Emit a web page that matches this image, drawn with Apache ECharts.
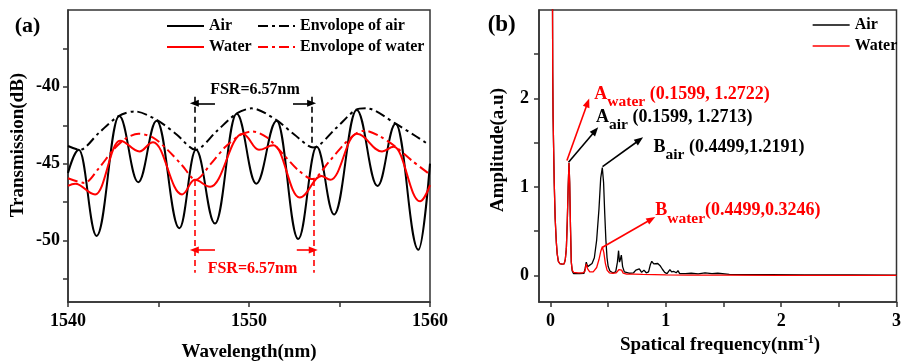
<!DOCTYPE html>
<html>
<head>
<meta charset="utf-8">
<script src="https://cdn.jsdelivr.net/npm/echarts@6/dist/echarts.min.js"></script>
<style>
html, body { margin: 0; padding: 0; background: #fff; }
#chart { width: 904px; height: 363px; }
</style>
</head>
<body>
<div id="chart"></div>
<script>
// (a) transmission spectra: wavelength (nm) / transmission (dB), read at the extrema
const wlAir = [1540.0, 1540.6, 1541.58, 1542.83, 1543.88, 1544.9, 1546.15, 1547.07, 1548.12, 1549.32, 1550.4, 1551.53, 1552.72, 1553.74, 1554.7, 1555.95, 1557.1, 1558.1, 1559.36, 1560.0];
const tAir = [-45.6, -44.1, -49.7, -41.9, -46.2, -42.2, -49.2, -44.1, -48.9, -41.75, -46.3, -42.2, -49.9, -43.9, -48.3, -41.5, -46.45, -42.4, -50.6, -45.0];

const wlWater = [1540.0, 1540.4, 1541.5, 1542.87, 1543.95, 1544.7, 1546.3, 1547.0, 1547.85, 1549.65, 1550.55, 1551.35, 1552.8, 1554.0, 1554.5, 1555.95, 1557.35, 1558.0, 1559.45, 1560.0];
const tWater = [-46.45, -46.3, -47.0, -43.5, -44.2, -43.6, -47.0, -46.05, -46.5, -43.05, -44.1, -43.8, -47.2, -45.8, -46.05, -43.05, -44.2, -43.9, -47.45, -46.4];

const wlEnvAir = [1540.0, 1540.65, 1541.7, 1542.8, 1543.7, 1544.9, 1546.0, 1547.05, 1548.2, 1549.3, 1550.15, 1551.5, 1552.5, 1553.55, 1554.8, 1555.9, 1556.5, 1558.1, 1559.2, 1559.85];
const tEnvAir = [-43.85, -44.1, -43.0, -41.9, -41.6, -42.15, -43.1, -44.1, -42.9, -41.75, -41.4, -42.15, -43.1, -43.95, -42.7, -41.5, -41.4, -42.4, -43.2, -43.7];

const wlEnvWater = [1540.0, 1540.9, 1541.7, 1542.5, 1543.2, 1543.9, 1544.7, 1545.5, 1546.3, 1547.05, 1547.9, 1548.7, 1549.5, 1550.2, 1551.0, 1551.9, 1552.7, 1553.5, 1554.4, 1555.2, 1555.9, 1556.4, 1557.2, 1558.1, 1559.0, 1560.0];
const tEnvWater = [-45.95, -46.25, -45.3, -44.1, -43.35, -43.05, -43.3, -44.1, -45.1, -46.05, -45.0, -43.9, -43.15, -42.9, -43.3, -44.4, -45.4, -46.0, -44.9, -43.8, -43.05, -42.85, -43.2, -43.9, -44.8, -45.7];

// (b) spatial frequency spectra: frequency (nm^-1) / amplitude (a.u)
const fsAir = [0.015, 0.017, 0.019, 0.022, 0.026, 0.032, 0.04, 0.05, 0.058, 0.068, 0.08, 0.1, 0.118, 0.128, 0.137, 0.145, 0.153, 0.16, 0.166, 0.173, 0.18, 0.188, 0.2, 0.25, 0.29, 0.3, 0.31, 0.322, 0.335, 0.36, 0.38, 0.4, 0.42, 0.435, 0.449, 0.46, 0.47, 0.48, 0.49, 0.5, 0.515, 0.54, 0.565, 0.58, 0.59, 0.598, 0.605, 0.614, 0.625, 0.64, 0.68, 0.72, 0.74, 0.755, 0.77, 0.79, 0.81, 0.83, 0.85, 0.865, 0.878, 0.895, 0.91, 0.93, 0.95, 0.97, 0.99, 1.01, 1.035, 1.05, 1.07, 1.09, 1.105, 1.12, 1.17, 1.22, 1.28, 1.34, 1.4, 1.45, 1.55, 1.7, 1.9, 2.2, 2.6, 3.0];
const ampAir = [30, 3.1, 2.3, 1.8, 1.5, 1.05, 0.65, 0.38, 0.24, 0.16, 0.135, 0.128, 0.13, 0.18, 0.3, 0.6, 1.0, 1.2713, 1.05, 0.55, 0.15, 0.05, 0.02, 0.02, 0.025, 0.08, 0.15, 0.1, 0.11, 0.135, 0.2, 0.4, 0.75, 1.1, 1.2191, 1.05, 0.7, 0.4, 0.2, 0.1, 0.05, 0.03, 0.04, 0.15, 0.28, 0.15, 0.18, 0.23, 0.1, 0.04, 0.025, 0.03, 0.06, 0.05, 0.075, 0.035, 0.06, 0.03, 0.04, 0.12, 0.16, 0.13, 0.14, 0.135, 0.11, 0.07, 0.035, 0.02, 0.065, 0.04, 0.045, 0.03, 0.055, 0.02, 0.02, 0.025, 0.018, 0.028, 0.02, 0.025, 0.012, 0.01, 0.008, 0.006, 0.005, 0.004];

const fsWater = [0.015, 0.017, 0.019, 0.022, 0.026, 0.032, 0.04, 0.05, 0.058, 0.068, 0.08, 0.1, 0.118, 0.128, 0.137, 0.145, 0.153, 0.16, 0.166, 0.173, 0.18, 0.188, 0.2, 0.24, 0.28, 0.298, 0.31, 0.322, 0.34, 0.37, 0.4, 0.42, 0.435, 0.449, 0.462, 0.475, 0.49, 0.51, 0.54, 0.57, 0.584, 0.594, 0.605, 0.617, 0.63, 0.66, 0.72, 0.8, 0.9, 1.0, 1.2, 1.5, 2.0, 3.0];
const ampWater = [30, 3.1, 2.3, 1.8, 1.5, 1.05, 0.65, 0.38, 0.24, 0.16, 0.135, 0.128, 0.13, 0.18, 0.3, 0.6, 1.0, 1.2722, 1.05, 0.55, 0.15, 0.06, 0.035, 0.03, 0.03, 0.045, 0.13, 0.075, 0.04, 0.04, 0.09, 0.18, 0.27, 0.3246, 0.26, 0.14, 0.06, 0.03, 0.025, 0.03, 0.05, 0.067, 0.045, 0.06, 0.025, 0.015, 0.015, 0.012, 0.01, 0.006, 0.004, 0.003, 0.002, 0.002];

// tick values
const wlTicks = [1540, 1545, 1550, 1555, 1560];
const wlLabels = [1540, 1550, 1560];
const dbTicks = [-52.5, -50, -47.5, -45, -42.5, -40, -37.5];
const dbLabels = [-50, -45, -40];
const fsTicks = [0, 0.5, 1, 1.5, 2, 2.5, 3];
const fsLabels = [0, 1, 2, 3];
const ampTicks = [0, 0.5, 1, 1.5, 2, 2.5];
const ampLabels = [0, 1, 2];

const FONT = '"Liberation Serif", "Times New Roman", serif';
const RED = '#ff0000';
const AXIS = '#333';
const DASHDOT = [10, 4, 3, 4];

const zip = (xs, ys) => xs.map((x, i) => [x, ys[i]]);

const chart = echarts.init(document.getElementById('chart'));

const axisCommon = {
    type: 'value',
    axisLine: { show: true, onZero: false, lineStyle: { color: AXIS, width: 1.5 } },
    axisTick: { show: true, length: 5, lineStyle: { color: AXIS, width: 1.5 } },
    splitLine: { show: false },
};
const labelStyle = { color: '#000', fontFamily: FONT, fontWeight: 'bold', fontSize: 18, formatter: (v) => String(v) };

const legendCommon = {
    orient: 'vertical',
    padding: 0,
    itemWidth: 37,
    itemHeight: 14,
    itemGap: 5,
    selectedMode: false,
    itemStyle: { opacity: 0 },
    textStyle: { color: '#000', fontFamily: FONT, fontWeight: 'bold', fontSize: 16 },
};

// endpoints of helper lines, in data coordinates
const seg = (a, b, color, type, arrow) => [
    { coord: a, symbol: 'none', lineStyle: { color, type, width: 1.6 } },
    { coord: b, symbol: arrow ? 'triangle' : 'none', symbolSize: [7, 9] },
];
const markLine = (data) => ({
    silent: true,
    animation: false,
    label: { show: false },
    emphasis: { disabled: true },
    symbol: ['none', 'none'],
    data,
});

const option = {
    animation: false,
    backgroundColor: '#fff',
    grid: [
        { left: 68, top: 10, width: 362, height: 292, show: true, borderColor: AXIS, borderWidth: 1.5 },
        { left: 539, top: 10, width: 362, height: 292, show: true, borderColor: AXIS, borderWidth: 1.5 },
    ],
    xAxis: [
        Object.assign({}, axisCommon, {
            gridIndex: 0, min: 1540, max: 1560,
            axisTick: Object.assign({}, axisCommon.axisTick, { customValues: wlTicks }),
            axisLabel: Object.assign({ margin: 10, customValues: wlLabels }, labelStyle),
        }),
        Object.assign({}, axisCommon, {
            gridIndex: 1, min: -0.1, max: 3,
            axisTick: Object.assign({}, axisCommon.axisTick, { customValues: fsTicks }),
            axisLabel: Object.assign({ margin: 10, customValues: fsLabels }, labelStyle),
        }),
    ],
    yAxis: [
        Object.assign({}, axisCommon, {
            gridIndex: 0, min: -54, max: -35,
            axisTick: Object.assign({}, axisCommon.axisTick, { customValues: dbTicks }),
            axisLabel: Object.assign({ margin: 8, customValues: dbLabels }, labelStyle),
        }),
        Object.assign({}, axisCommon, {
            gridIndex: 1, min: -0.3, max: 3,
            axisTick: Object.assign({}, axisCommon.axisTick, { customValues: ampTicks }),
            axisLabel: Object.assign({ margin: 10, customValues: ampLabels }, labelStyle),
        }),
    ],
    legend: [
        Object.assign({}, legendCommon, { left: 166, top: 18, data: ['Air', 'Water'] }),
        Object.assign({}, legendCommon, { left: 257, top: 18, data: ['Envolope of air', 'Envolope of water'] }),
        Object.assign({}, legendCommon, { left: 812, top: 17, data: ['Air', 'Water'], lineStyle: { width: 1.3 } }),
    ],
    series: [
        {
            name: 'Air', type: 'line', xAxisIndex: 0, yAxisIndex: 0,
            data: zip(wlAir, tAir), showSymbol: false, symbol: 'none',
            smooth: 0.4, smoothMonotone: 'x',
            lineStyle: { color: '#000', width: 2 }, itemStyle: { color: '#000' },
            markLine: markLine([
                seg([1546.98, -40.64], [1546.98, -44.1], '#000', [6, 4]),
                seg([1553.46, -40.64], [1553.46, -43.9], '#000', [6, 4]),
                seg([1548.12, -41.07], [1546.98, -41.07], '#000', 'solid', true),
                seg([1552.43, -41.07], [1553.46, -41.07], '#000', 'solid', true),
            ]),
        },
        {
            name: 'Envolope of air', type: 'line', xAxisIndex: 0, yAxisIndex: 0,
            data: zip(wlEnvAir, tEnvAir), showSymbol: false, symbol: 'none', smooth: 0.3,
            lineStyle: { color: '#000', width: 2, type: DASHDOT }, itemStyle: { color: '#000' },
        },
        {
            name: 'Water', type: 'line', xAxisIndex: 0, yAxisIndex: 0,
            data: zip(wlWater, tWater), showSymbol: false, symbol: 'none',
            smooth: 0.4, smoothMonotone: 'x',
            lineStyle: { color: RED, width: 2 }, itemStyle: { color: RED },
            markLine: markLine([
                seg([1546.98, -46.06], [1546.98, -52.1], RED, [6, 4]),
                seg([1553.55, -46.06], [1553.55, -52.1], RED, [6, 4]),
                seg([1548.12, -50.62], [1546.98, -50.62], RED, 'solid', true),
                seg([1552.64, -50.62], [1553.55, -50.62], RED, 'solid', true),
            ]),
        },
        {
            name: 'Envolope of water', type: 'line', xAxisIndex: 0, yAxisIndex: 0,
            data: zip(wlEnvWater, tEnvWater), showSymbol: false, symbol: 'none', smooth: 0.3,
            lineStyle: { color: RED, width: 2, type: DASHDOT }, itemStyle: { color: RED },
        },
        {
            name: 'Air', type: 'line', xAxisIndex: 1, yAxisIndex: 1,
            data: zip(fsAir, ampAir), showSymbol: false, symbol: 'none',
            lineStyle: { color: '#000', width: 1.3 }, itemStyle: { color: '#000' },
            markLine: markLine([
                seg([0.156, 1.279], [0.388, 1.636], '#000', 'solid', true),
                seg([0.451, 1.229], [0.771, 1.531], '#000', 'solid', true),
            ]),
        },
        {
            name: 'Water', type: 'line', xAxisIndex: 1, yAxisIndex: 1,
            data: zip(fsWater, ampWater), showSymbol: false, symbol: 'none',
            lineStyle: { color: RED, width: 1.3 }, itemStyle: { color: RED },
            markLine: markLine([
                seg([0.142, 1.30], [0.322, 1.952], RED, 'solid', true),
                seg([0.451, 0.318], [0.874, 0.635], RED, 'solid', true),
            ]),
        },
    ],
};

chart.setOption(option);

// text annotations, placed from data coordinates
const toPx = (g, p) => chart.convertToPixel({ gridIndex: g }, p);
const text = (pos, str, size, color, extra) => ({
    type: 'text', x: pos[0], y: pos[1], silent: true,
    style: Object.assign({
        text: str, fill: color, fontFamily: FONT, fontWeight: 'bold', fontSize: size,
        align: 'center', verticalAlign: 'middle',
    }, extra || {}),
});
const subRich = (color) => ({
    m: { fontFamily: FONT, fontWeight: 'bold', fontSize: 18, lineHeight: 20, verticalAlign: 'top', fill: color },
    s: { fontFamily: FONT, fontWeight: 'bold', fontSize: 15.5, lineHeight: 34, fill: color },
});
const note = (g, p, main, sub, rest, color) => text(toPx(g, p), '{m|' + main + '}{s|' + sub + '}{m|' + rest + '}', 18, color, {
    align: 'left', verticalAlign: 'top', rich: subRich(color),
});

chart.setOption({
    graphic: [
        text([27.5, 26], '(a)', 22, '#000'),
        text([501.7, 25], '(b)', 23, '#000'),
        text(toPx(0, [1550.33, -40.2]), 'FSR=6.57nm', 16, '#000'),
        text(toPx(0, [1550.19, -51.85]), 'FSR=6.57nm', 16, RED),
        note(1, [0.38, 2.15], 'A', 'water', ' (0.1599, 1.2722)', RED),
        note(1, [0.394, 1.89], 'A', 'air', ' (0.1599, 1.2713)', '#000'),
        note(1, [0.893, 1.55], 'B', 'air', ' (0.4499,1.2191)', '#000'),
        note(1, [0.908, 0.835], 'B', 'water', '(0.4499,0.3246)', RED),
        text([249, 352], 'Wavelength(nm)', 19, '#000'),
        text([720, 345], '{t|Spatical frequency(nm}{p|-1}{t|)}', 19, '#000', {
            rich: {
                t: { fontFamily: FONT, fontWeight: 'bold', fontSize: 19, lineHeight: 22, fill: '#000' },
                p: { fontFamily: FONT, fontWeight: 'bold', fontSize: 12, lineHeight: 12, verticalAlign: 'top', fill: '#000' },
            },
        }),
        Object.assign(text([18, 145], 'Transmission(dB)', 19, '#000'), { rotation: Math.PI / 2 }),
        Object.assign(text([498, 150], 'Amplitude(a.u)', 19, '#000'), { rotation: Math.PI / 2 }),
    ],
});
</script>
</body>
</html>
